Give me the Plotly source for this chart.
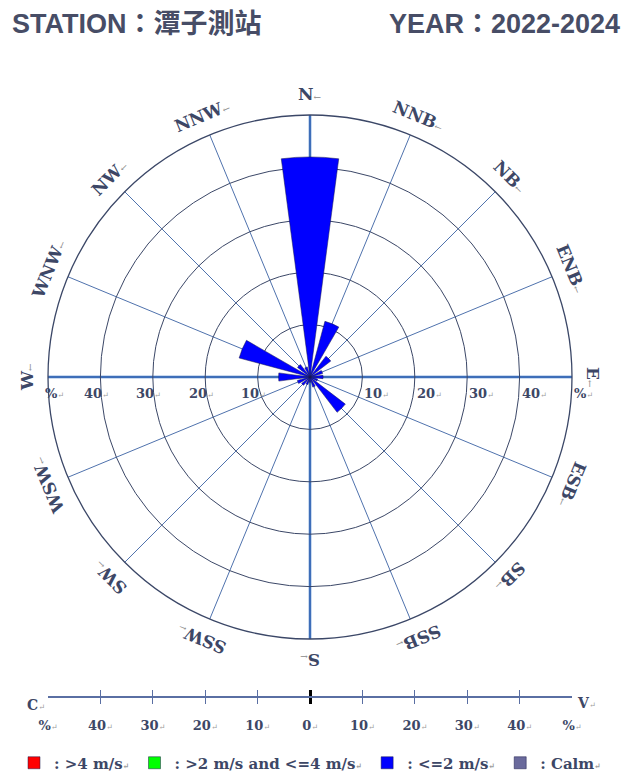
import math
import plotly.graph_objects as go

# ---------------- data ----------------
DIRECTIONS = ["N", "NNB", "NB", "ENB", "E", "ESB", "SB", "SSB",
              "S", "SSW", "SW", "WSW", "W", "WNW", "NW", "NNW"]
SPEED_LE2 = [42, 11, 5, 2.5, 2.5, 1.5, 8.5, 2, 1, 1.5, 2, 2.5, 6, 14, 3, 2]
SPEED_2_4 = [0, 0, 0, 0, 0, 0, 0, 0, 0, 0, 0, 0, 0, 0, 0, 0]
SPEED_GT4 = [0, 0, 0, 0, 0, 0, 0, 0, 0, 0, 0, 0, 0, 0, 0, 0]
CALM = [0]
RING_TICKS = [10, 20, 30, 40, 50]
RING_LABELS = ["10", "20", "30", "40", "%"]
SCALE_TICKS = [-50, -40, -30, -20, -10, 0, 10, 20, 30, 40, 50]
SCALE_LABELS = ["%", "40", "30", "20", "10", "0", "10", "20", "30", "40", "%"]
STATION = "STATION：潭子測站"
YEAR = "YEAR：2022-2024"

# ---------------- layout constants ----------------
W, H = 624, 774
CX, CY, R = 310, 377, 262
RMAX = 50
THETA = [i * 360 / len(DIRECTIONS) for i in range(len(DIRECTIONS))]

RING_COLOR = "#3b4767"
SPOKE_COLOR = "#4f72ad"
AXIS_BLUE = "#2f6bc4"
TEXT_COLOR = "#3d4766"
MARK = "<span style='font-size:8px;color:#9a9a9a'>↵</span>"
ARROW = "<span style='font-size:9px;color:#8a8a8a'>←</span>"
SERIF = "DejaVu Serif"


def px(x):
    return x / W


def py(y):
    return 1 - y / H


fig = go.Figure()

fig.add_trace(go.Barpolar(r=SPEED_LE2, theta=THETA, width=15, name=": <=2 m/s" + MARK,
                          marker=dict(color="#0000ff", line=dict(width=0.5, color="#1a1a4a")),
                          legendrank=3))
fig.add_trace(go.Barpolar(r=SPEED_2_4, theta=THETA, width=15, name=": >2 m/s and <=4 m/s" + MARK,
                          marker=dict(color="#00ff00", line=dict(width=0.5, color="#1a1a4a")),
                          legendrank=2))
fig.add_trace(go.Barpolar(r=SPEED_GT4, theta=THETA, width=15, name=": >4 m/s" + MARK,
                          marker=dict(color="#ff0000", line=dict(width=0.5, color="#1a1a4a")),
                          legendrank=1))
fig.add_trace(go.Barpolar(r=CALM, theta=[0], width=15, name=": Calm" + MARK,
                          marker=dict(color="#6a6a9c", line=dict(width=0.5, color="#1a1a4a")),
                          legendrank=4))

# invisible trace to activate the bottom scale axes
fig.add_trace(go.Scatter(x=[], y=[], showlegend=False, hoverinfo="skip"))

shapes = []
# thick N-S and E-W axis lines (under grid)
for b in (0, 90):
    a = math.radians(b)
    x0 = CX + R * math.sin(a)
    y0 = CY - R * math.cos(a)
    x1 = CX - R * math.sin(a)
    y1 = CY + R * math.cos(a)
    shapes.append(dict(type="line", xref="paper", yref="paper", layer="below",
                       x0=px(x0), y0=py(y0), x1=px(x1), y1=py(y1),
                       line=dict(color=AXIS_BLUE, width=2.5)))

annotations = []
# direction labels
for d, b in zip(DIRECTIONS, THETA):
    a = math.radians(b)
    rr = R + 21
    x = CX + rr * math.sin(a)
    y = CY - rr * math.cos(a)
    ang = b if b <= 180 else b - 360
    annotations.append(dict(x=px(x), y=py(y), xref="paper", yref="paper", showarrow=False,
                            text="<b>" + d + "</b>" + ARROW, textangle=ang,
                            xanchor="center", yanchor="middle",
                            font=dict(family=SERIF, size=17, color=TEXT_COLOR)))

# ring labels on both sides of the E-W line
for v, t in zip(RING_TICKS, RING_LABELS):
    off = v / RMAX * R
    annotations.append(dict(x=px(CX + off), y=py(CY + 16), xref="paper", yref="paper",
                            showarrow=False, text="<b>" + t + "</b>" + MARK,
                            xanchor="left", yanchor="middle",
                            font=dict(family=SERIF, size=13, color=TEXT_COLOR)))
    annotations.append(dict(x=px(CX - off + (6 if t == "%" else -4)), y=py(CY + 16), xref="paper",
                            yref="paper", showarrow=False, text="<b>" + t + "</b>" + MARK,
                            xanchor="center", yanchor="middle",
                            font=dict(family=SERIF, size=13, color=TEXT_COLOR)))

# scale end labels
annotations.append(dict(x=px(36), y=py(705), xref="paper", yref="paper", showarrow=False,
                        text="<b>C</b>" + MARK, xanchor="center", yanchor="middle",
                        font=dict(family=SERIF, size=14, color=TEXT_COLOR)))
annotations.append(dict(x=px(586), y=py(703), xref="paper", yref="paper", showarrow=False,
                        text="<b>V</b>" + MARK, xanchor="center", yanchor="middle",
                        font=dict(family=SERIF, size=14, color=TEXT_COLOR)))

# titles
annotations.append(dict(x=px(10), y=py(24), xref="paper", yref="paper", showarrow=False,
                        text="<b>" + STATION + "</b>", xanchor="left", yanchor="middle",
                        font=dict(family="Liberation Sans, Noto Sans CJK TC", size=27, color="#474d66")))
annotations.append(dict(x=px(622), y=py(24), xref="paper", yref="paper", showarrow=False,
                        text="<b>" + YEAR + "</b>", xanchor="right", yanchor="middle",
                        font=dict(family="Liberation Sans, Noto Sans CJK TC", size=27, color="#474d66")))

fig.update_layout(
    width=W, height=H,
    margin=dict(l=0, r=0, t=0, b=0, pad=0, autoexpand=False),
    paper_bgcolor="white",
    plot_bgcolor="rgba(0,0,0,0)",
    showlegend=True,
    legend=dict(orientation="h", x=px(14), y=py(763), xanchor="left", yanchor="middle",
                font=dict(family=SERIF, size=15, color=TEXT_COLOR, weight="bold"),
                bgcolor="rgba(0,0,0,0)", itemclick=False, itemdoubleclick=False,
                traceorder="normal"),
    polar=dict(
        domain=dict(x=[px(CX - R), px(CX + R)], y=[py(CY + R), py(CY - R)]),
        bgcolor="rgba(0,0,0,0)",
        barmode="stack",
        radialaxis=dict(range=[0, RMAX], tickvals=RING_TICKS, showticklabels=False, ticks="",
                        gridcolor=RING_COLOR, gridwidth=1.3, showline=False),
        angularaxis=dict(direction="clockwise", rotation=90, tickvals=THETA,
                         showticklabels=False, ticks="", gridcolor=SPOKE_COLOR, gridwidth=1,
                         showline=True, linecolor=RING_COLOR, linewidth=1.3),
    ),
    xaxis=dict(domain=[px(CX - R), px(CX + R)], range=[-RMAX, RMAX], tickvals=SCALE_TICKS,
               ticktext=["<b>" + t + "</b>" + MARK for t in SCALE_LABELS],
               showgrid=True, gridcolor="#5a6fa3", gridwidth=1.3,
               zeroline=True, zerolinecolor="black", zerolinewidth=3,
               ticks="", ticklabelstandoff=12, showline=False, fixedrange=True,
               tickfont=dict(family=SERIF, size=13, color=TEXT_COLOR)),
    yaxis=dict(domain=[py(704), py(690)], range=[-1, 1], showgrid=False, showticklabels=False,
               zeroline=True, zerolinecolor="#5a6fa3", zerolinewidth=1.5, fixedrange=True),
    shapes=shapes,
    annotations=annotations,
)

fig.write_html("out.html", config={"displayModeBar": False},
               post_script="document.body.style.margin='0';document.body.style.overflow='hidden';")
